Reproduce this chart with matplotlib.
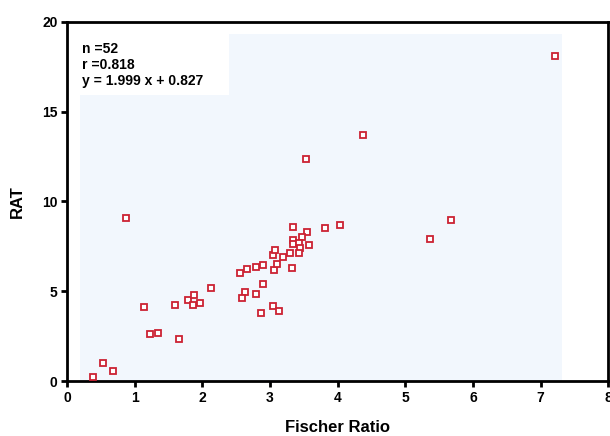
import numpy as np
import matplotlib
matplotlib.use("Agg")
import matplotlib.pyplot as plt
from matplotlib.patches import Rectangle

plt.rcParams['font.family'] = ['Liberation Sans', 'DejaVu Sans']
plt.rcParams['font.weight'] = 'bold'

# Fischer ratio vs RAT
fischer = [0.38, 0.53, 0.68, 1.13, 1.23, 1.35, 1.60, 1.66, 1.79, 1.88,
           1.86, 1.96, 2.13, 0.87, 2.55, 2.66, 2.80, 2.90, 2.63, 2.59,
           2.79, 2.90, 2.87, 3.05, 3.14, 3.06, 3.10, 3.04, 3.08, 3.19,
           3.29, 3.32, 3.34, 3.55, 3.47, 3.81, 4.03, 3.34, 3.34, 3.43,
           3.57, 3.44, 3.43, 3.53, 4.37, 5.68, 5.37, 7.22]
rat = [0.22, 1.00, 0.54, 4.14, 2.64, 2.69, 4.21, 2.36, 4.53, 4.79,
       4.21, 4.33, 5.19, 9.06, 6.00, 6.26, 6.37, 6.44, 4.94, 4.64,
       4.86, 5.39, 3.81, 4.20, 3.92, 6.18, 6.50, 7.00, 7.30, 6.89,
       7.13, 6.31, 8.58, 8.30, 8.04, 8.50, 8.69, 7.86, 7.62, 7.67,
       7.58, 7.39, 7.11, 12.37, 13.69, 8.95, 7.89, 18.07]
stats_lines = ["n =52", "r =0.818", "y = 1.999 x + 0.827"]

fig = plt.figure(figsize=(6.1, 4.36), dpi=100)
ax = fig.add_axes([0.110, 0.126, 0.887, 0.824])

# pale background panel and white stats box
ax.add_patch(Rectangle((0.19, 0), 7.13, 19.3, facecolor='#f2f7fd',
                       edgecolor='none', zorder=0))
ax.add_patch(Rectangle((0.19, 15.95), 2.21, 3.35, facecolor='white',
                       edgecolor='none', zorder=1))

ax.plot(fischer, rat, linestyle='none', marker='s', markersize=4.6,
        markerfacecolor='white', markeredgecolor='#cc2233',
        markeredgewidth=1.3, zorder=3, clip_on=False)

ax.text(0.22, 18.85, "\n".join(stats_lines), fontsize=10, fontweight='bold',
        va='top', ha='left', linespacing=1.15, zorder=4)

ax.set_xlim(0, 8)
ax.set_ylim(0, 20)
ax.set_xticks(range(0, 9))
ax.set_yticks([0, 5, 10, 15, 20])
for s in ax.spines.values():
    s.set_linewidth(2)
ax.tick_params(direction='out', length=4, width=2, labelsize=10, pad=3)
for lab in ax.get_xticklabels() + ax.get_yticklabels():
    lab.set_fontweight('bold')

ax.set_xlabel("Fischer Ratio", fontsize=12, fontweight='bold', labelpad=11)
ax.set_ylabel("RAT", fontsize=12, fontweight='bold', labelpad=12)

fig.savefig("out.png", dpi=100)
